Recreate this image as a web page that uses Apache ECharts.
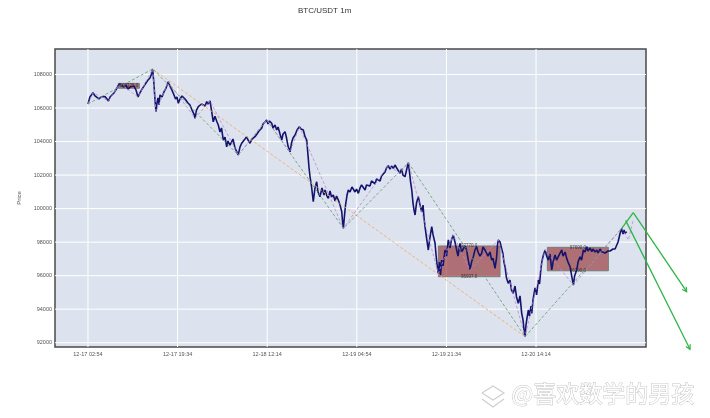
<!DOCTYPE html>
<html><head><meta charset="utf-8">
<script src="https://cdn.jsdelivr.net/npm/echarts@6/dist/echarts.min.js"></script>
<style>html,body{margin:0;padding:0;background:#fff}#c{width:710px;height:418px}</style>
</head><body><div id="c"></div>
<script>
// minutes since 12-17 02:54 (1m bars)
const priceMinute = [0,22,56,78,100,123,145,167,190,212,229,246,268,290,312,335,357,379,402,424,446,469,491,513,536,558,580,603,625,647,670,692,709,722,737,748,759,770,781,792,804,826,848,871,896,915,937,960,977,993,1008,1027,1049,1064,1083,1102,1116,1138,1161,1183,1194,1211,1231,1250,1267,1287,1306,1325,1339,1362,1378,1398,1417,1440,1454,1473,1490,1510,1529,1548,1562,1585,1604,1618,1641,1657,1677,1696,1715,1730,1752,1771,1786,1808,1830,1864,1886,1908,1938,1953,1975,1994,2009,2026,2050,2065,2087,2106,2121,2143,2162,2177,2199,2216,2232,2255,2271,2288,2311,2333,2359,2377,2403,2422,2441,2455,2467,2478,2494,2514,2533,2552,2567,2589,2611,2634,2645,2667,2682,2701,2718,2738,2757,2774,2794,2813,2832,2841,2850,2863,2874,2891,2905,2924,2946,2961,2980,2997,3017,3036,3053,3073,3092,3108,3128,3147,3164,3184,3203,3220,3240,3259,3276,3296,3315,3331,3351,3370,3387,3407,3426,3444,3459,3482,3499,3515,3538,3555,3575,3588,3600,3613,3627,3638,3650,3666,3686,3706,3724,3739,3750,3761,3778,3798,3812,3836,3851,3873,3884,3895,3909,3923,3934,3947,3962,3984,4001,4021,4040,4056,4076,4095,4114,4129,4151,4168,4188,4207,4226,4240,4263,4280,4300,4318,4337,4352,4374,4393,4408,4430,4449,4464,4486,4505,4519,4542,4559,4570,4579,4598,4617,4631,4642,4654,4670,4690,4709,4726,4746,4765,4782,4802,4821,4840,4855,4866,4877,4888,4899,4914,4927,4944,4952,4966,4989,5006,5026,5039,5051,5064,5079,5101,5118,5137,5156,5175,5190,5212,5229,5248,5268,5287,5301,5324,5342,5357,5380,5396,5417,5430,5454,5469,5491,5508,5528,5547,5566,5580,5603,5622,5636,5659,5678,5692,5714,5733,5748,5770,5789,5803,5826,5845,5859,5882,5900,5915,5938,5956,5971,5982,5993,6012];
const priceValue = [106240,106660,106910,106720,106660,106540,106660,106600,106690,106540,106420,106660,106780,106900,107080,107310,107460,107370,107250,107370,107130,107250,107160,107310,107070,106660,106900,107130,107310,107490,107670,107790,108030,108330,107370,106480,105780,106300,106600,106180,106780,106660,106960,107190,107570,107310,107070,106780,106540,106660,106280,106540,106720,106780,106540,106580,106300,106180,105880,105640,105390,105880,106080,106000,106240,106280,106120,106380,106240,106420,105880,105180,105510,105170,104990,104570,104810,104090,104270,103690,104030,103790,103690,104150,103610,103500,103200,103670,103900,103790,104150,104290,104090,103900,104150,104290,104450,104630,104790,105050,105170,105290,105050,105230,105090,104810,104990,104690,104870,104450,104090,104450,104590,104210,103730,103390,103910,104210,104390,104690,104890,104750,104690,104290,104090,103200,102420,101900,101350,100410,101230,101600,100990,100710,101230,100810,101110,100750,100610,101050,100690,100810,100450,100750,100510,100210,99810,99200,98820,99620,100210,100810,101110,100990,101290,101210,100990,101170,100910,101230,101410,101310,101110,101410,101510,101350,101650,101600,101470,101770,101810,101650,101950,101900,102190,102420,102560,102360,102540,102400,102600,102500,102300,102110,102360,102000,101900,102300,102740,102180,101590,101110,100330,99920,99620,100330,100710,100210,99810,100210,99440,98920,98250,97530,98130,98920,98430,97930,97230,96690,96140,96810,96040,96930,96580,97530,97170,98130,97650,98130,98420,98010,97530,97170,97930,97410,97330,97770,97530,97050,96340,96810,97130,97530,97730,97410,97170,97330,97710,97530,97530,97170,97410,96930,97050,96440,97050,97830,98130,98010,97930,97290,96810,96530,95860,95540,95740,95140,94950,95380,94730,94350,94790,93750,93350,92760,92360,93060,93470,93950,93590,94190,93750,94550,95270,94850,95740,95500,96220,96810,97170,97530,97170,96930,97290,96340,96810,97230,96930,96830,97350,97530,97170,97410,97030,96810,96530,96030,95440,95980,96340,96810,97130,96930,97530,97410,97730,97470,97650,97430,97590,97410,97530,97350,97590,97430,97530,97350,97330,97470,97470,97530,97590,97590,97630,98010,98530,98820,98480,98720,98530,98620];

const minorZigMinute = [0,56,229,357,558,722,759,896,1194,1362,1677,1994,2255,2359,2850,3351,3482,3575,3909,4076,4263,4579,4877,5101,5417,5956,6030,6086];
const minorZigValue  = [106240,106910,106420,107460,106660,108330,105780,107570,105390,106420,103200,105290,103390,104890,98820,102560,102110,102740,96140,98420,96340,98130,92360,97530,95440,98820,98130,99360];

const majorZigMinute = [0,722,1677,1994,2850,3575,4877,5956];
const majorZigValue  = [106240,108330,103200,105290,98820,102740,92360,98820];

const trendMinute = [722,4877];
const trendValue  = [108330,92360];

const boxStart  = [338,3910,5126];
const boxEnd    = [573,4598,5807];
const boxTop    = [107470,97770,97690];
const boxBottom = [107180,95937,96290];

const projFromMinute = [5956,6085,6000];
const projFromValue  = [98820,99755,99300];
const projToMinute   = [6085,6681,6718];
const projToValue    = [99755,95042,91606];
const projArrow      = [0,1,1];

const xTickMinutes = [0,1000,2000,3000,4000,5000];
const xTickLabels  = ['12-17 02:54','12-17 19:34','12-18 12:14','12-19 04:54','12-19 21:34','12-20 14:14'];
const yTicks = [92000,94000,96000,98000,100000,102000,104000,106000,108000];

const FONT = 'Liberation Sans';
const zip = (a,b)=>a.map((v,i)=>[v,b[i]]);

const chart = echarts.init(document.getElementById('c'));
chart.setOption({
  animation:false,
  backgroundColor:'#ffffff',
  title:{text:'BTC/USDT 1m', left:293, top:2, textStyle:{fontSize:8, fontWeight:'normal', color:'#333', fontFamily:FONT}},
  grid:{left:55, right:64, top:49, bottom:71, show:true, backgroundColor:'#dde3ee', borderColor:'#4a4a4a', borderWidth:1.5},
  xAxis:{type:'value', min:-368, max:6227,
    axisLine:{show:false}, axisTick:{show:false, customValues:xTickMinutes},
    axisLabel:{customValues:xTickMinutes, formatter:v=>{const i=xTickMinutes.indexOf(v);return i>=0?xTickLabels[i]:'';}, fontSize:5.5, color:'#555', margin:4, fontFamily:FONT},
    splitLine:{show:false}},
  yAxis:{type:'value', min:91744, max:109521, name:'Price', nameLocation:'middle', nameGap:22,
    nameTextStyle:{fontSize:6, color:'#555', fontFamily:FONT},
    axisLine:{show:false}, axisTick:{show:false, customValues:yTicks},
    axisLabel:{customValues:yTicks, formatter:v=>String(Math.round(v)), fontSize:5.5, color:'#555', margin:3, fontFamily:FONT},
    splitLine:{show:false}},
  graphic:[
    {type:'polyline', silent:true, shape:{points:[[482,393],[493,386],[504,393],[493,400],[482,393]]}, style:{stroke:'#cfcfcf', fill:null, lineWidth:1.2}},
    {type:'polyline', silent:true, shape:{points:[[482,399],[493,407],[504,399]]}, style:{stroke:'#cfcfcf', fill:null, lineWidth:1.2}},
    {type:'text', silent:true, left:511, top:381, style:{text:'@喜欢数学的男孩', font:'23px "Noto Sans CJK SC"', fill:'#ffffff', stroke:'#c4c4c4', lineWidth:1}}
  ],
  series:[
    {type:'custom', silent:true, name:'vgrid', data:xTickMinutes.map(v=>[v,100000]),
      renderItem:(p,api)=>{const cs=p.coordSys;const x=api.coord([api.value(0),api.value(1)])[0];
        return {type:'line', shape:{x1:x,y1:cs.y,x2:x,y2:cs.y+cs.height}, style:{stroke:'#ffffff', lineWidth:1}};}},
    {type:'custom', silent:true, name:'hgrid', data:yTicks.map(v=>[2000,v]),
      renderItem:(p,api)=>{const cs=p.coordSys;const y=api.coord([api.value(0),api.value(1)])[1];
        return {type:'line', shape:{x1:cs.x,y1:y,x2:cs.x+cs.width,y2:y}, style:{stroke:'#ffffff', lineWidth:1}};}},
    {type:'custom', silent:true, name:'boxes', data:boxStart.map((s,i)=>[s,boxTop[i],boxEnd[i],boxBottom[i]]),
      renderItem:(p,api)=>{const a=api.coord([api.value(0),api.value(1)]);const b=api.coord([api.value(2),api.value(3)]);
        return {type:'rect', shape:{x:a[0],y:a[1],width:b[0]-a[0],height:b[1]-a[1]}, style:{fill:'rgba(140,30,30,0.58)', stroke:'#7a7a7a', lineWidth:1}};}},
    {type:'line', name:'price', data:zip(priceMinute,priceValue), showSymbol:false, symbol:'none',
      lineStyle:{color:'#14146e', width:1.6}, z:3},
    {type:'line', name:'trend', data:zip(trendMinute,trendValue), showSymbol:false, symbol:'none',
      lineStyle:{color:'#f2ad6e', width:0.9, type:[3,2]}, z:4},
    {type:'line', name:'zigMajor', data:zip(majorZigMinute,majorZigValue), showSymbol:false, symbol:'none',
      lineStyle:{color:'#5f9a6c', width:0.8, type:[3,2]}, z:4},
    {type:'line', name:'zigMinor', data:zip(minorZigMinute,minorZigValue), showSymbol:false, symbol:'none',
      lineStyle:{color:'#b58ad2', width:0.8, type:[3,2]}, z:4},
    {type:'scatter', name:'boxLabels', silent:true, symbolSize:0, z:5,
      data:[[ (boxStart[0]+boxEnd[0])/2, (boxTop[0]+boxBottom[0])/2 ],
            ...boxStart.slice(1).map((s,k)=>{const i=k+1;return [(s+boxEnd[i])/2, boxTop[i]];}),
            ...boxStart.slice(1).map((s,k)=>{const i=k+1;return [(s+boxEnd[i])/2, boxBottom[i]];})],
      label:{show:true, fontSize:4.5, color:'#222', fontFamily:FONT,
        formatter:p=>p.value[1].toFixed(1), position:'inside'},
      encode:{x:0,y:1}},
    {type:'custom', silent:true, name:'projection', clip:false, z:6,
      data:projFromMinute.map((m,i)=>[m,projFromValue[i],projToMinute[i],projToValue[i],projArrow[i]]),
      renderItem:(p,api)=>{const a=api.coord([api.value(0),api.value(1)]);const b=api.coord([api.value(2),api.value(3)]);
        const ch=[{type:'line', shape:{x1:a[0],y1:a[1],x2:b[0],y2:b[1]}, style:{stroke:'#2fb548', lineWidth:1.3}}];
        if(api.value(4)){const ang=Math.atan2(b[1]-a[1],b[0]-a[0]);const L=5,w=0.5;
          ch.push({type:'polyline', shape:{points:[[b[0]-L*Math.cos(ang-w),b[1]-L*Math.sin(ang-w)],[b[0],b[1]],[b[0]-L*Math.cos(ang+w),b[1]-L*Math.sin(ang+w)]]}, style:{stroke:'#2fb548', fill:null, lineWidth:1.2}});}
        return {type:'group', children:ch};}}
  ]
});
</script></body></html>
